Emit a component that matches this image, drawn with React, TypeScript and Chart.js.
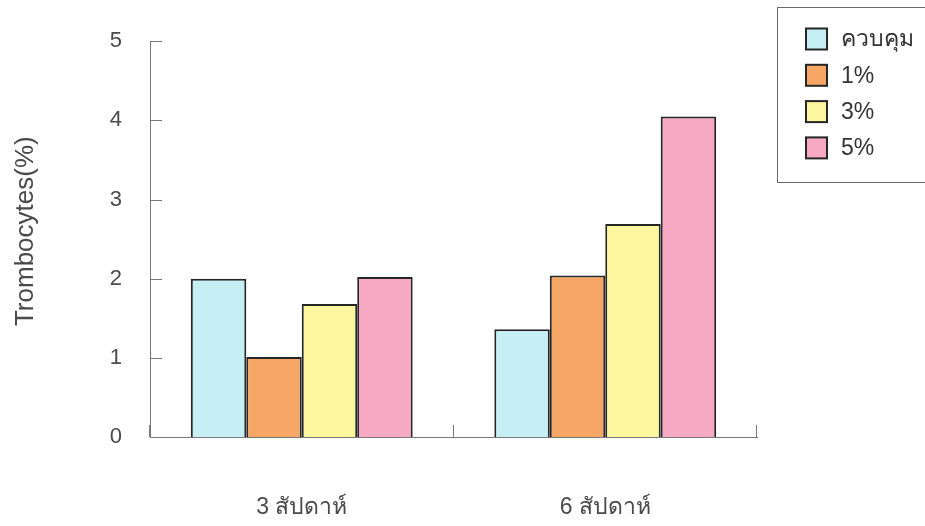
import { useEffect, useRef } from 'react';
import { Chart, registerables } from 'chart.js';

Chart.register(...registerables);

// Data
const categories = ['3 สัปดาห์', '6 สัปดาห์'];
const seriesNames = ['ควบคุม', '1%', '3%', '5%'];
const controlValues = [2.0, 1.36];
const onePercentValues = [1.01, 2.04];
const threePercentValues = [1.68, 2.69];
const fivePercentValues = [2.02, 4.05];
const yTickValues = [0, 1, 2, 3, 4, 5];
const yAxisTitle = 'Trombocytes(%)';

const seriesColors = ['#c6eef5', '#f6a765', '#fcf79e', '#f7a8c2'];
const barBorder = '#262626';
const axisColor = '#7a7a7a';
const textColor = '#4a4a4a';
const fontFamily = '"Liberation Sans", Arial, "Noto Sans", sans-serif';

// Excel-style inner tick marks on both axes, plus the vertical axis title
const innerTicks = {
  id: 'innerTicks',
  afterDraw(chart: any) {
    const { ctx, chartArea, scales } = chart;
    const y = scales.y;
    ctx.save();
    ctx.strokeStyle = axisColor;
    ctx.lineWidth = 1;
    ctx.beginPath();
    for (const v of yTickValues) {
      const py = Math.round(y.getPixelForValue(v)) + 0.5;
      ctx.moveTo(chartArea.left, py);
      ctx.lineTo(chartArea.left + 12, py);
    }
    const n = categories.length;
    const step = (chartArea.right - chartArea.left) / n;
    for (let i = 0; i <= n; i++) {
      const px = Math.round(chartArea.left + i * step) - 0.5;
      ctx.moveTo(px, chartArea.bottom);
      ctx.lineTo(px, chartArea.bottom - 12);
    }
    ctx.stroke();

    ctx.translate(26, y.getPixelForValue(2.6));
    ctx.rotate(-Math.PI / 2);
    ctx.font = `26px ${fontFamily}`;
    ctx.fillStyle = textColor;
    ctx.textAlign = 'center';
    ctx.textBaseline = 'middle';
    ctx.fillText(yAxisTitle, 0, 0);
    ctx.restore();
  },
};

// Boxed legend at the top right
const boxedLegend = {
  id: 'boxedLegend',
  afterDraw(chart: any) {
    const { ctx } = chart;
    const boxLeft = 777.5;
    const boxTop = 7.5;
    const boxBottom = 182.5;
    ctx.save();
    ctx.fillStyle = '#ffffff';
    ctx.fillRect(boxLeft, boxTop, 200, boxBottom - boxTop);
    ctx.strokeStyle = '#6a6a6a';
    ctx.lineWidth = 1;
    ctx.strokeRect(boxLeft, boxTop, 200, boxBottom - boxTop);
    ctx.font = `23px ${fontFamily}`;
    ctx.textBaseline = 'middle';
    ctx.textAlign = 'left';
    chart.data.datasets.forEach((ds: any, i: number) => {
      const cy = 39 + i * 36.3;
      const sx = 806;
      const size = 21;
      ctx.fillStyle = ds.backgroundColor;
      ctx.fillRect(sx, cy - size / 2, size, size);
      ctx.strokeStyle = barBorder;
      ctx.lineWidth = 2;
      ctx.strokeRect(sx, cy - size / 2, size, size);
      ctx.fillStyle = '#333333';
      ctx.fillText(ds.label, 841, cy + 1);
    });
    ctx.restore();
  },
};

export default function App() {
  const canvasRef = useRef<HTMLCanvasElement | null>(null);

  useEffect(() => {
    if (!canvasRef.current) return;
    const valueSets = [controlValues, onePercentValues, threePercentValues, fivePercentValues];
    const chart = new Chart(canvasRef.current, {
      type: 'bar',
      data: {
        labels: categories,
        datasets: seriesNames.map((name, i) => ({
          label: name,
          data: valueSets[i],
          backgroundColor: seriesColors[i],
          borderColor: barBorder,
          borderWidth: 2,
          borderSkipped: 'bottom',
          categoryPercentage: 0.731,
          barPercentage: 1,
        })),
      },
      options: {
        animation: false,
        responsive: true,
        maintainAspectRatio: false,
        layout: { padding: { left: 0, top: 40, right: 168, bottom: 0 } },
        plugins: {
          legend: { display: false },
          tooltip: { enabled: false },
        },
        scales: {
          x: {
            grid: { display: false, drawTicks: false },
            border: { display: true, color: axisColor, width: 1 },
            ticks: {
              padding: 57,
              color: textColor,
              font: { family: fontFamily, size: 23 },
            },
            afterFit(scale: any) {
              scale.height = 89;
            },
          },
          y: {
            min: 0,
            max: 5,
            grid: { display: false, drawTicks: false },
            border: { display: true, color: axisColor, width: 1 },
            ticks: {
              stepSize: 1,
              padding: 28,
              color: textColor,
              font: { family: fontFamily, size: 22 },
            },
            afterFit(scale: any) {
              scale.width = 150;
            },
          },
        },
      },
      plugins: [innerTicks, boxedLegend],
    });
    return () => chart.destroy();
  }, []);

  return (
    <div style={{ position: 'fixed', left: 0, top: 0, width: 925, height: 526, background: '#ffffff' }}>
      <canvas ref={canvasRef} />
    </div>
  );
}
